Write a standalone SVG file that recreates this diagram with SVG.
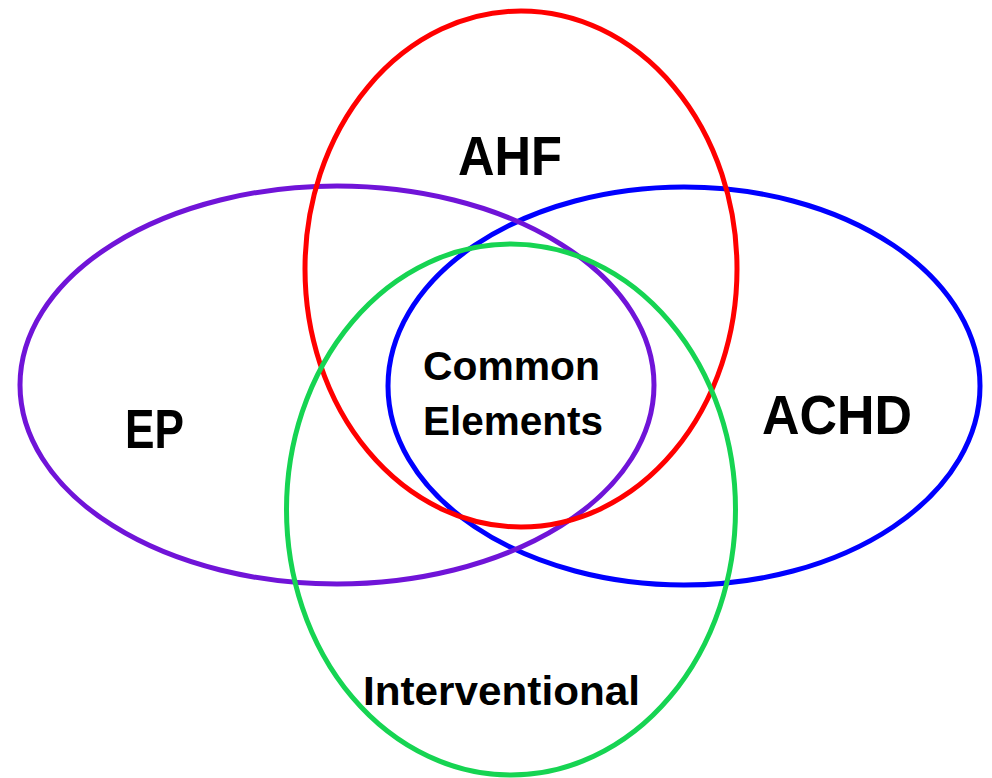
<svg xmlns="http://www.w3.org/2000/svg" width="992" height="778" viewBox="0 0 992 778">
<style>
.ring{fill:none;stroke-width:5}
.big{font-family:"Liberation Sans",Arial,sans-serif;font-weight:bold;font-size:55px;fill:#000}
.small{font-family:"Liberation Sans",Arial,sans-serif;font-weight:bold;font-size:41px;fill:#000}
</style>
<rect width="992" height="778" fill="#fff"/>
<g id="ACHD"><ellipse class="ring" cx="684" cy="386" rx="296" ry="199" stroke="#0000ff"/></g>
<g id="EP"><ellipse class="ring" cx="337" cy="385" rx="317" ry="199" stroke="#7014d8"/></g>
<g id="AHF"><ellipse class="ring" cx="521" cy="269" rx="216" ry="258" stroke="#ff0000"/></g>
<g id="Interventional"><ellipse class="ring" cx="511" cy="509.5" rx="224.5" ry="265.5" stroke="#16d452"/></g>
<g id="labels">
<text class="big" x="458" y="175" textLength="104" lengthAdjust="spacingAndGlyphs">AHF</text>
<text class="big" x="125" y="448" textLength="59" lengthAdjust="spacingAndGlyphs">EP</text>
<text class="big" x="762" y="434" textLength="150" lengthAdjust="spacingAndGlyphs">ACHD</text>
<text class="small" x="423" y="380" textLength="177" lengthAdjust="spacingAndGlyphs">Common</text>
<text class="small" x="423" y="435" textLength="180" lengthAdjust="spacingAndGlyphs">Elements</text>
<text class="small" x="363" y="705" textLength="277" lengthAdjust="spacingAndGlyphs">Interventional</text>
</g>
<g id="connectors"></g>
</svg>
